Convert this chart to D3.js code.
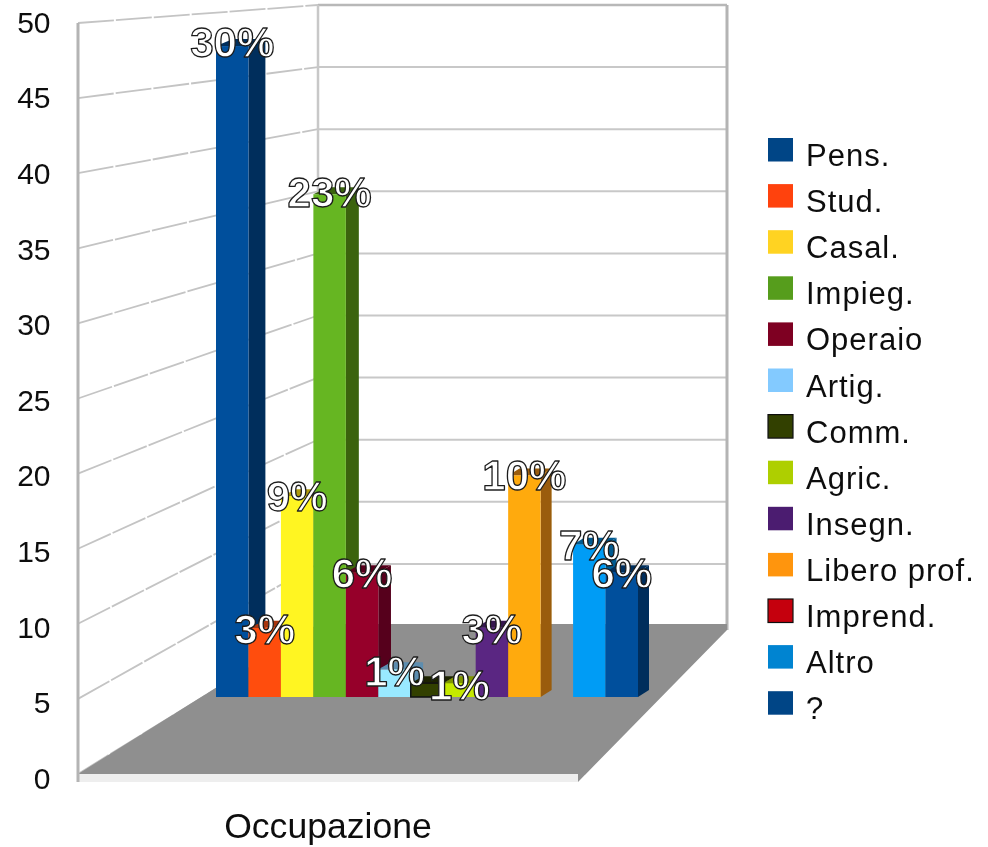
<!DOCTYPE html>
<html><head><meta charset="utf-8">
<script src="https://cdn.jsdelivr.net/npm/d3@7"></script>
<style>html,body{margin:0;padding:0;background:#fff}svg{display:block}text{font-family:"Liberation Sans",Arial,sans-serif}</style>
</head><body><div id="chart"></div>
<script>
const categories=["Pens.","Stud.","Casal.","Impieg.","Operaio","Artig.","Comm.","Agric.","Insegn.","Libero prof.","Imprend.","Altro","?"];
const values=[47,5,14.5,36.3,9,2,1,1,5,16,0,11,9];
const dataLabels=["30%","3%","9%","23%","6%","1%","","1%","3%","10%","","7%","6%"];
const legendColors=["#004586","#ff420e","#ffd320","#579d1c","#7e0021","#83caff","#314004","#aecf00","#4b1f6f","#ff950e","#c5000b","#0084d1","#004586"];
const frontColors=["#004f9c","#ff4e0d","#fff520","#66b620","#96002c","#99e9ff","#334000","#c5e900","#5a2582","#ffaa10","#c5000b","#009cf5","#004f9c"];
const sideColors=["#002f5c","#a8340a","#b09a10","#3a6410","#56001a","#5b8db0","#1c2400","#7f9600","#351650","#9a5c08","#700006","#005a90","#002f5c"];
const yTicks=[0,5,10,15,20,25,30,35,40,45,50];
const axisTitle="Occupazione";

const W=988,H=847;
const svg=d3.select("#chart").append("svg").attr("width",W).attr("height",H);
const defs=svg.append("defs");
defs.append("filter").attr("id","soft").append("feGaussianBlur").attr("stdDeviation",0.45);
const root=svg.append("g").attr("filter","url(#soft)");

// three perspective planes of the same value axis
const yFront=d3.scaleLinear().domain([0,50]).range([774,23]);
const yBack=d3.scaleLinear().domain([0,50]).range([626,5]);
const yTickText=d3.scaleLinear().domain([0,50]).range([778,22]);
const yBar=d3.scaleLinear().domain([0,1]).range([697,697-13.85]);
const yLabel=d3.scaleLinear().domain([1,47]).range([700,57]);
const x=d3.scaleBand().domain(categories).range([216,638]).padding(0);
const depth=d3.scaleLinear().domain([217,247,345,540,650]).range([17,17,13,11,11]);
const rise=7;
const wall={l:78,m:318,r:727,fr:578};

// walls
const grid=root.append("g");
grid.selectAll(".lg").data(yTicks).join("line")
  .attr("x1",wall.l).attr("x2",wall.m).attr("y1",d=>yFront(d)).attr("y2",d=>yBack(d))
  .attr("stroke","#c4c4c4").attr("stroke-width",1.8).attr("stroke-dasharray","36 2");
grid.selectAll(".bg").data(yTicks).join("line")
  .attr("x1",wall.m).attr("x2",wall.r).attr("y1",d=>yBack(d)).attr("y2",d=>yBack(d))
  .attr("stroke",d=>d===50?"#b8b8b8":"#c8c8c8").attr("stroke-width",d=>d===50?2.5:2);
grid.append("line").attr("x1",wall.m).attr("x2",wall.m).attr("y1",yBack(50)).attr("y2",yBack(0)).attr("stroke","#c8c8c8").attr("stroke-width",2.5);
grid.append("line").attr("x1",wall.r).attr("x2",wall.r).attr("y1",yBack(50)).attr("y2",yBack(0)+4).attr("stroke","#b4b4b4").attr("stroke-width",3);

// floor
root.append("polygon").attr("fill","#eeeeee")
  .attr("points",[[wall.l,yFront(0)],[wall.fr,yFront(0)],[wall.fr,yFront(0)+8],[wall.l,yFront(0)+8]].join(" "));
root.append("polygon").attr("fill","#8f8f8f")
  .attr("points",[[wall.l,yFront(0)],[wall.m,yBack(0)-2],[wall.r,yBack(0)-2],[wall.r,yBack(0)+4],[wall.fr,yFront(0)+8],[wall.fr,yFront(0)]].join(" "));
root.append("line").attr("x1",wall.l).attr("x2",wall.l).attr("y1",yFront(50)).attr("y2",yFront(0)+8).attr("stroke","#b4b4b4").attr("stroke-width",3);

// bars
const rows=categories.map((c,i)=>({c,v:values[i],front:frontColors[i],side:sideColors[i],label:dataLabels[i]}));
const bars=root.append("g").selectAll("g").data(rows.filter(d=>d.v>0)).join("g");
const edge=d=>({x0:x(d.c),x1:x(d.c)+x.bandwidth(),t:yBar(d.v),b:yBar(0)});
bars.append("polygon").attr("fill",d=>d.side).attr("points",d=>{const e=edge(d),k=depth(e.x1);
  return [[e.x1,e.t],[e.x1+k,e.t-rise],[e.x1+k,e.b-rise],[e.x1,e.b]].join(" ");});
bars.append("polygon").attr("fill",d=>d.side).attr("points",d=>{const e=edge(d);
  return [[e.x0,e.t],[e.x1,e.t],[e.x1+depth(e.x1),e.t-rise],[e.x0+depth(e.x0),e.t-rise]].join(" ");});
bars.append("rect").attr("x",d=>edge(d).x0).attr("width",x.bandwidth()).attr("y",d=>edge(d).t).attr("height",d=>edge(d).b-edge(d).t)
  .attr("fill",d=>d.front).attr("stroke",d=>d.c==="Comm."?"#111":"none").attr("stroke-width",1.5);

// y axis
const axis=root.append("g").attr("transform",`translate(${wall.l-16},0)`)
  .call(d3.axisLeft(yTickText).tickValues(yTicks).tickSize(0).tickPadding(11.5).tickFormat(d3.format("d")));
axis.select(".domain").remove();
axis.selectAll("text").attr("font-size",30).attr("fill","#111").attr("dy","0.34em").style("font-family",'"Liberation Sans",Arial,sans-serif');

// axis title
root.append("text").attr("x",328).attr("y",838).attr("text-anchor","middle").attr("font-size",35.6).attr("fill","#111").text(axisTitle);

// legend
const legend=root.append("g").selectAll("g").data(rows).join("g")
  .attr("transform",(d,i)=>`translate(768,${138+i*46.1})`);
legend.append("rect").attr("width",25).attr("height",23.5)
  .attr("fill",(d,i)=>legendColors[i])
  .attr("stroke",d=>(d.c==="Comm."||d.c==="Imprend.")?"#111":"none").attr("stroke-width",1.2);
legend.append("text").attr("x",38).attr("y",28).attr("font-size",31).attr("letter-spacing",1).attr("fill","#111").text(d=>d.c);

// data labels
root.append("g").selectAll("text").data(rows.filter(d=>d.label)).join("text")
  .attr("x",d=>x(d.c)+x.bandwidth()/2).attr("y",d=>yLabel(d.v))
  .attr("text-anchor","middle").attr("font-size",42).attr("font-weight","bold")
  .attr("fill","#fff").attr("stroke","#1a1a1a").attr("stroke-width",1.3).attr("stroke-linejoin","round")
  .text(d=>d.label);
</script></body></html>
